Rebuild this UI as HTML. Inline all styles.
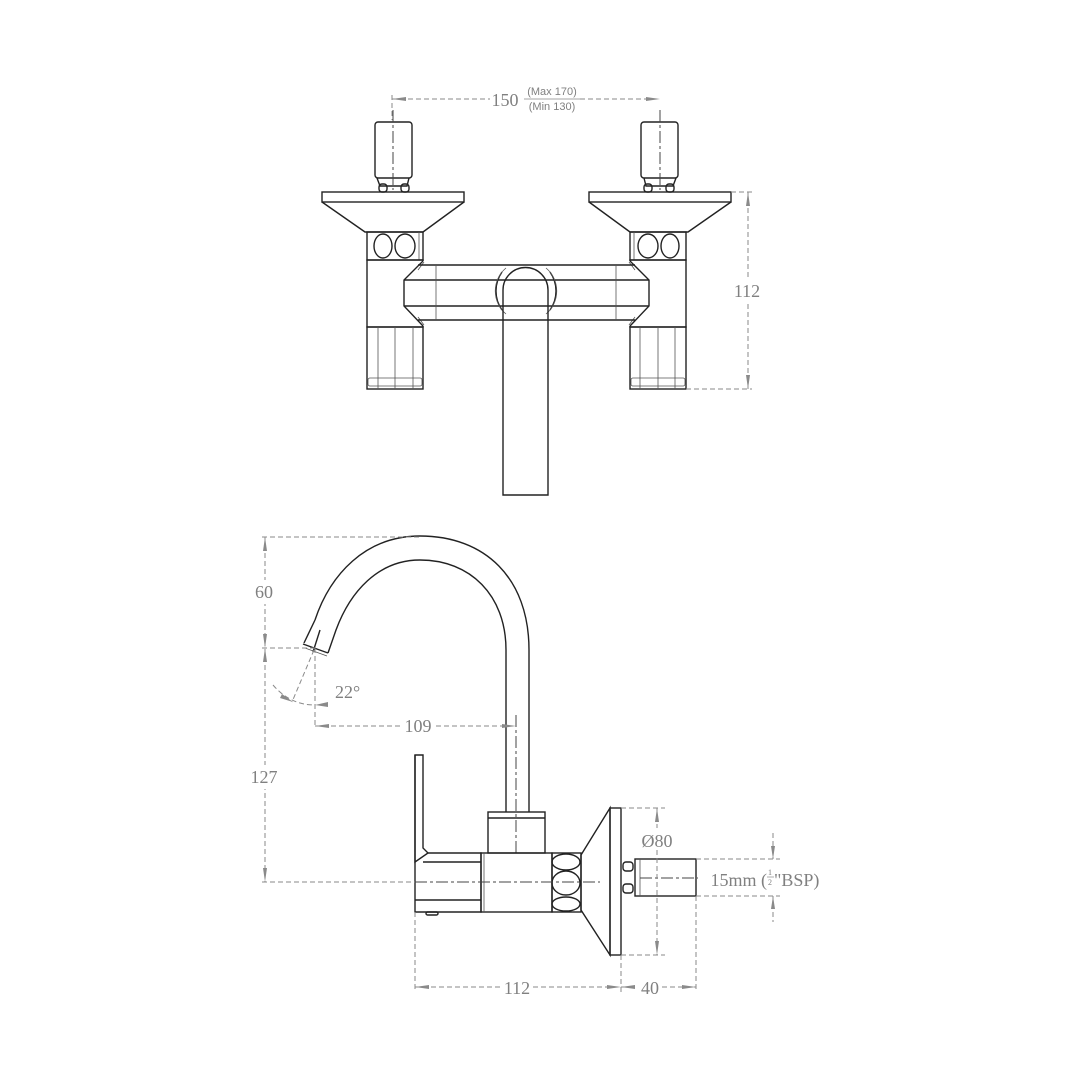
<!DOCTYPE html>
<html><head><meta charset="utf-8"><style>
html,body{margin:0;padding:0;background:#fff}
svg{display:block}
.o{fill:none;stroke:#222;stroke-width:1.4}
.t{fill:none;stroke:#555;stroke-width:0.8}
.d{fill:none;stroke:#8a8a8a;stroke-width:1;stroke-dasharray:5 3}
.c{fill:none;stroke:#444;stroke-width:1;stroke-dasharray:12 3 3 3}
.a{fill:#8a8a8a}
text{font-family:"Liberation Serif",serif;fill:#808080}
</style></head><body>
<svg width="1080" height="1080" viewBox="0 0 1080 1080" xmlns="http://www.w3.org/2000/svg">
<rect width="1080" height="1080" fill="#fff"/>
<defs>
<g id="unit">
  <rect class="o" x="641" y="122" width="37" height="56" rx="3"/>
  <path class="o" d="M644,178 L646,186 L673,186 L676,178"/>
  <rect class="o" x="644" y="184" width="8" height="8" rx="3"/>
  <rect class="o" x="666" y="184" width="8" height="8" rx="3"/>
  <rect class="o" x="589" y="192" width="142" height="10"/>
  <path class="o" d="M589,202 L630,232 L688,232 L731,202"/>
  <rect class="o" x="630" y="232" width="56" height="28"/>
  <line class="t" x1="634" y1="232" x2="634" y2="260"/>
  <ellipse class="o" cx="648" cy="246" rx="10" ry="12"/>
  <ellipse class="o" cx="670" cy="246" rx="9" ry="12"/>
  <rect class="o" x="630" y="260" width="56" height="67"/>
  <rect class="o" x="630" y="327" width="56" height="62"/>
  <line class="t" x1="640" y1="327" x2="640" y2="389"/>
  <line class="t" x1="658" y1="327" x2="658" y2="389"/>
  <line class="t" x1="675" y1="327" x2="675" y2="389"/>
  <rect class="t" x="631" y="378" width="54" height="8" rx="2"/>
  <line class="c" x1="660" y1="110" x2="660" y2="190"/>
</g>
</defs>

<use href="#unit"/>
<use href="#unit" transform="translate(1053,0) scale(-1,1)"/>
<!-- crossbar -->
<polygon points="423,261 630,261 649,280 649,306 630,326 423,326 404,306 404,280" fill="#fff"/>
<path class="o" d="M423,261 L404,280 L404,306 L423,326"/>
<path class="o" d="M630,261 L649,280 L649,306 L630,326"/>
<path class="t" d="M424,262 L418,270 M629,262 L635,270 M424,325 L418,317 M629,325 L635,317"/>
<line class="o" x1="418" y1="265" x2="635" y2="265"/>
<line class="o" x1="418" y1="320" x2="635" y2="320"/>
<line class="o" x1="404" y1="280" x2="649" y2="280"/>
<line class="o" x1="404" y1="306" x2="649" y2="306"/>
<line class="t" x1="436" y1="265" x2="436" y2="320"/>
<line class="t" x1="616" y1="265" x2="616" y2="320"/>
<!-- hub -->
<path class="o" d="M502,272 A33,33 0 0 0 502,310"/>
<path class="o" d="M550,272 A33,33 0 0 1 550,310"/>
<path class="t" d="M506,268 A30,30 0 0 0 506,314"/>
<path class="t" d="M546,268 A30,30 0 0 1 546,314"/>
<path class="o" d="M503,495 L503,290 A22.5,22.5 0 0 1 548,290 L548,495 Z" fill="#fff"/>
<!-- 150 dim -->
<line class="d" x1="392" y1="99" x2="490" y2="99"/>
<line class="d" x1="580" y1="99" x2="660" y2="99"/>
<line class="d" x1="392" y1="95" x2="392" y2="120"/>
<polygon class="a" points="392,99 406,97 406,101"/>
<polygon class="a" points="660,99 646,97 646,101"/>
<text x="505" y="106" font-size="18" text-anchor="middle">150</text>
<line x1="524" y1="99" x2="581" y2="99" stroke="#888" stroke-width="0.8"/>
<text x="552" y="95" font-size="11" text-anchor="middle" style="font-family:'Liberation Sans',sans-serif">(Max 170)</text>
<text x="552" y="110" font-size="11" text-anchor="middle" style="font-family:'Liberation Sans',sans-serif">(Min  130)</text>
<!-- 112 vertical -->
<line class="d" x1="731" y1="192" x2="752" y2="192"/>
<line class="d" x1="686" y1="389" x2="752" y2="389"/>
<line class="d" x1="748" y1="192" x2="748" y2="389"/>
<polygon class="a" points="748,192 746,206 750,206"/>
<polygon class="a" points="748,389 746,375 750,375"/>
<rect x="734" y="280" width="28" height="22" fill="#fff"/>
<text x="747" y="297" font-size="18" text-anchor="middle">112</text>

<!-- SIDE VIEW -->
<path class="o" d="M315,620 C330,575 365,536 420,536 C485,536 529,578 529,650 L529,812"/>
<path class="o" d="M328,653 L336,630 C350,592 378,560 420,560 C470,560 506,595 506,650 L506,812"/>
<path class="o" d="M315,620 L304,643"/>
<path class="o" d="M303,644 L328,653"/>
<path class="t" d="M305,648 L327,656"/>
<line class="c" x1="516" y1="715" x2="516" y2="855"/>
<line class="o" x1="320" y1="630" x2="313" y2="652"/>
<rect class="o" x="488" y="812" width="57" height="41"/>
<line class="o" x1="488" y1="818" x2="545" y2="818"/>
<path class="o" d="M415,755 L423,755 L423,848 L428,853 L415,862 Z"/>
<path class="o" d="M415,755 L415,912 L481,912 L481,853 L428,853"/>
<line class="o" x1="423" y1="862" x2="481" y2="862"/>
<line class="o" x1="415" y1="900" x2="481" y2="900"/>
<rect class="o" x="481" y="853" width="71" height="59"/>
<line class="t" x1="484" y1="853" x2="484" y2="912"/>
<rect class="o" x="426" y="912" width="12" height="3" rx="1.5"/>
<rect class="o" x="552" y="853" width="29" height="59"/>
<ellipse class="o" cx="566" cy="862" rx="14" ry="8"/>
<ellipse class="o" cx="566" cy="883" rx="14" ry="12"/>
<ellipse class="o" cx="566" cy="904" rx="14" ry="7"/>
<polygon class="o" points="581,855 610,808 610,955 581,910"/>
<rect class="o" x="610" y="808" width="11" height="147"/>
<rect class="o" x="623" y="862" width="10" height="9" rx="3"/>
<rect class="o" x="623" y="884" width="10" height="9" rx="3"/>
<rect class="o" x="635" y="859" width="61" height="37"/>
<line class="t" x1="640" y1="859" x2="640" y2="896"/>
<line class="c" x1="415" y1="882" x2="600" y2="882"/>
<line class="c" x1="640" y1="878" x2="698" y2="878"/>
<!-- dims left -->
<line class="d" x1="262" y1="537" x2="420" y2="537"/>
<line class="d" x1="265" y1="537" x2="265" y2="882"/>
<line class="d" x1="262" y1="882" x2="415" y2="882"/>
<line class="d" x1="262" y1="648" x2="315" y2="648"/>
<polygon class="a" points="265,537 263,551 267,551"/>
<polygon class="a" points="265,648 263,634 267,634"/>
<polygon class="a" points="265,648 263,662 267,662"/>
<polygon class="a" points="265,882 263,868 267,868"/>
<rect x="252" y="580" width="26" height="24" fill="#fff"/>
<text x="264" y="598" font-size="18" text-anchor="middle">60</text>
<rect x="248" y="765" width="32" height="24" fill="#fff"/>
<text x="264" y="783" font-size="18" text-anchor="middle">127</text>
<line class="d" x1="315" y1="648" x2="315" y2="728"/>
<line class="d" x1="314" y1="650" x2="292" y2="702"/>
<path class="d" d="M273,685 Q290,705 315,705"/>
<polygon class="a" points="293,702 282,694 280,698"/>
<polygon class="a" points="315,705 328,702 328,707"/>
<text x="335" y="698" font-size="18">22°</text>
<line class="d" x1="315" y1="726" x2="400" y2="726"/>
<line class="d" x1="436" y1="726" x2="516" y2="726"/>
<polygon class="a" points="315,726 329,724 329,728"/>
<polygon class="a" points="516,726 502,724 502,728"/>
<text x="418" y="732" font-size="18" text-anchor="middle">109</text>
<line class="d" x1="621" y1="808" x2="665" y2="808"/>
<line class="d" x1="621" y1="955" x2="665" y2="955"/>
<line class="d" x1="657" y1="808" x2="657" y2="828"/>
<line class="d" x1="657" y1="850" x2="657" y2="955"/>
<polygon class="a" points="657,808 655,822 659,822"/>
<polygon class="a" points="657,955 655,941 659,941"/>
<text x="657" y="847" font-size="18" text-anchor="middle">Ø80</text>
<line class="d" x1="696" y1="859" x2="780" y2="859"/>
<line class="d" x1="696" y1="896" x2="780" y2="896"/>
<line class="d" x1="773" y1="833" x2="773" y2="859"/>
<line class="d" x1="773" y1="896" x2="773" y2="922"/>
<polygon class="a" points="773,859 771,846 775,846"/>
<polygon class="a" points="773,896 771,909 775,909"/>
<rect x="714" y="866" width="116" height="24" fill="#fff"/>
<text x="767" y="886" font-size="18" text-anchor="end">15mm (</text>
<text x="768" y="875" font-size="8">1</text>
<line x1="767" y1="877" x2="774" y2="877" stroke="#888" stroke-width="0.7"/>
<text x="768" y="885" font-size="8">2</text>
<text x="774" y="886" font-size="18">"BSP)</text>
<line class="d" x1="415" y1="912" x2="415" y2="992"/>
<line class="d" x1="621" y1="955" x2="621" y2="992"/>
<line class="d" x1="696" y1="896" x2="696" y2="992"/>
<line class="d" x1="415" y1="987" x2="500" y2="987"/>
<line class="d" x1="533" y1="987" x2="637" y2="987"/>
<line class="d" x1="662" y1="987" x2="696" y2="987"/>
<polygon class="a" points="415,987 429,985 429,989"/>
<polygon class="a" points="621,987 607,985 607,989"/>
<polygon class="a" points="621,987 635,985 635,989"/>
<polygon class="a" points="696,987 682,985 682,989"/>
<text x="517" y="994" font-size="18" text-anchor="middle">112</text>
<text x="650" y="994" font-size="18" text-anchor="middle">40</text>
</svg>
</body></html>
